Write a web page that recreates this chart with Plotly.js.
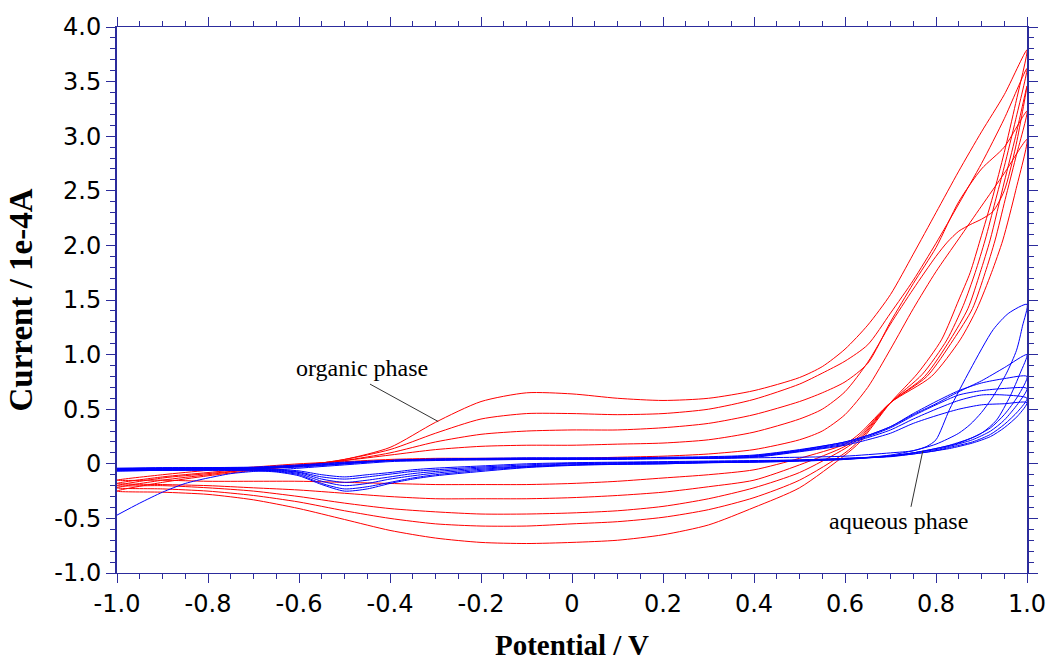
<!DOCTYPE html>
<html>
<head>
<meta charset="utf-8">
<script src="https://cdn.plot.ly/plotly-3.0.1.min.js"></script>
<style>html,body{margin:0;padding:0;background:#fff;}#chart{width:1048px;height:661px;}</style>
</head>
<body>
<div id="chart"></div>
<script>
// ---------- tick labels ----------
const xTickVals = [-1,-0.8,-0.6,-0.4,-0.2,0,0.2,0.4,0.6,0.8,1];
const xTickText = ['-1.0','-0.8','-0.6','-0.4','-0.2','0','0.2','0.4','0.6','0.8','1.0'];
const yTickVals = [-1,-0.5,0,0.5,1,1.5,2,2.5,3,3.5,4];
const yTickText = ['-1.0','-0.5','0','0.5','1.0','1.5','2.0','2.5','3.0','3.5','4.0'];

// ---------- organic phase (red) cycles: forward scan then reverse scan ----------
const orgGridX = [-1,-0.9,-0.8,-0.7,-0.6,-0.5,-0.4,-0.3,-0.2,-0.1,0,0.1,0.2,0.3,0.4,0.5,0.55,0.6,0.65,0.7,0.75,0.8,0.85,0.9,0.95,1.0];

const org1FwdY = [-0.25,-0.17,-0.11,-0.06,-0.02,0.04,0.15,0.38,0.57,0.65,0.64,0.60,0.58,0.60,0.67,0.79,0.89,1.05,1.27,1.55,1.92,2.30,2.68,3.04,3.38,3.79];
const org1RevX = [0.975,0.95,0.925,0.897,0.875,0.85,0.812,0.76,0.70,0.633,0.6,0.5,0.4,0.3,0.2,0.1,0,-0.1,-0.2,-0.3,-0.4,-0.5,-0.6,-0.7,-0.8,-0.9,-1.0];
const org1RevY = [3.30,2.85,2.45,2.05,1.75,1.50,1.135,0.83,0.56,0.20,0.08,-0.22,-0.40,-0.56,-0.65,-0.70,-0.72,-0.73,-0.72,-0.68,-0.61,-0.51,-0.41,-0.33,-0.28,-0.26,-0.25];

const org2FwdY = [-0.22,-0.15,-0.10,-0.05,-0.02,0.04,0.13,0.28,0.41,0.46,0.46,0.45,0.46,0.50,0.59,0.73,0.83,0.94,1.09,1.38,1.68,2.02,2.38,2.75,3.16,3.62];
const org2RevX = [0.975,0.95,0.93,0.908,0.886,0.86,0.824,0.77,0.70,0.633,0.6,0.5,0.4,0.3,0.2,0.1,0,-0.1,-0.2,-0.3,-0.4,-0.5,-0.6,-0.7,-0.8,-0.9,-1.0];
const org2RevY = [3.15,2.72,2.40,2.05,1.75,1.45,1.135,0.82,0.56,0.22,0.10,-0.15,-0.31,-0.42,-0.49,-0.53,-0.55,-0.57,-0.57,-0.55,-0.50,-0.43,-0.35,-0.29,-0.25,-0.23,-0.22];

const org3FwdY = [-0.20,-0.13,-0.09,-0.05,-0.02,0.03,0.10,0.20,0.27,0.30,0.31,0.31,0.33,0.37,0.45,0.57,0.65,0.75,0.92,1.30,1.65,1.98,2.40,2.70,2.90,3.23];
const org3RevX = [0.975,0.952,0.930,0.908,0.88,0.838,0.78,0.70,0.633,0.6,0.5,0.4,0.3,0.2,0.1,0,-0.1,-0.2,-0.3,-0.4,-0.5,-0.6,-0.7,-0.8,-0.9,-1.0];
const org3RevY = [2.80,2.42,2.05,1.75,1.42,1.135,0.80,0.56,0.24,0.14,-0.08,-0.22,-0.32,-0.39,-0.43,-0.45,-0.46,-0.46,-0.44,-0.41,-0.36,-0.30,-0.25,-0.22,-0.20,-0.20];

const org4FwdX = [-1,-0.9,-0.8,-0.7,-0.6,-0.5,-0.4,-0.3,-0.2,-0.1,0,0.1,0.2,0.3,0.4,0.5,0.55,0.6,0.65,0.7,0.75,0.8,0.825,0.85,0.875,0.9,0.925,0.95,0.975,1.0];
const org4FwdY = [-0.18,-0.12,-0.08,-0.04,-0.01,0.03,0.08,0.13,0.16,0.17,0.17,0.18,0.19,0.22,0.29,0.41,0.50,0.66,0.93,1.28,1.60,1.90,2.03,2.13,2.19,2.24,2.31,2.50,2.90,3.46];
const org4RevX = [0.975,0.95,0.919,0.897,0.87,0.831,0.775,0.70,0.633,0.6,0.5,0.4,0.3,0.2,0.1,0,-0.1,-0.2,-0.3,-0.4,-0.5,-0.6,-0.7,-0.8,-0.9,-1.0];
const org4RevY = [3.00,2.58,2.05,1.75,1.42,1.135,0.80,0.56,0.26,0.16,-0.01,-0.15,-0.21,-0.26,-0.29,-0.31,-0.32,-0.32,-0.32,-0.30,-0.27,-0.24,-0.22,-0.20,-0.19,-0.18];

const org5FwdY = [-0.15,-0.10,-0.06,-0.03,0.0,0.02,0.04,0.05,0.05,0.05,0.05,0.06,0.07,0.09,0.13,0.22,0.30,0.45,0.70,1.05,1.42,1.76,2.06,2.36,2.66,2.97];
const org5RevX = [0.975,0.947,0.922,0.89,0.853,0.79,0.70,0.633,0.6,0.5,0.4,0.3,0.2,0.1,0,-0.1,-0.2,-0.3,-0.4,-0.5,-0.6,-0.7,-0.8,-0.9,-1.0];
const org5RevY = [2.50,2.05,1.75,1.42,1.135,0.80,0.56,0.28,0.18,0.05,-0.055,-0.10,-0.13,-0.16,-0.18,-0.19,-0.19,-0.19,-0.18,-0.17,-0.16,-0.16,-0.16,-0.15,-0.15];

// ---------- aqueous phase (blue) cycles ----------
const aq1FwdX = [-1,-0.95,-0.9,-0.85,-0.8,-0.75,-0.7,-0.65,-0.6,-0.5,-0.4,-0.3,-0.2,-0.1,0,0.1,0.2,0.3,0.4,0.5,0.6,0.7,0.75,0.78,0.8,0.83,0.875,0.926,0.96,1.0];
const aq1FwdY = [-0.47,-0.36,-0.26,-0.18,-0.13,-0.09,-0.07,-0.055,-0.04,-0.01,0.02,0.03,0.04,0.04,0.04,0.045,0.05,0.05,0.055,0.06,0.07,0.10,0.12,0.16,0.22,0.50,0.86,1.23,1.38,1.46];
const aq1RevX = [0.99,0.977,0.955,0.926,0.9,0.875,0.85,0.8,0.75,0.7,0.6,0.5,0.4,0.3,0.2,0.1,0,-0.1,-0.2,-0.3,-0.35,-0.4,-0.45,-0.5,-0.55,-0.6,-0.65,-0.7,-0.8,-0.9,-1.0];
const aq1RevY = [1.26,1.04,0.83,0.62,0.47,0.36,0.28,0.18,0.12,0.08,0.04,0.025,0.015,0.01,0.0,-0.005,-0.015,-0.035,-0.07,-0.11,-0.14,-0.18,-0.23,-0.25,-0.19,-0.11,-0.075,-0.065,-0.06,-0.06,-0.065];

const aqGridX = [-1,-0.9,-0.8,-0.7,-0.6,-0.5,-0.4,-0.3,-0.2,-0.1,0,0.1,0.2,0.3,0.4,0.5,0.6,0.65,0.7,0.75,0.8,0.85,0.9,0.95,1.0];
const aqRevX = [0.98,0.95,0.92,0.88,0.83,0.8,0.75,0.7,0.6,0.5,0.4,0.3,0.2,0.1,0,-0.1,-0.2,-0.3,-0.35,-0.4,-0.45,-0.5,-0.55,-0.6,-0.65,-0.7,-0.8,-0.9,-1.0];

const aq2FwdY = [-0.065,-0.06,-0.055,-0.045,-0.03,0.0,0.03,0.045,0.05,0.055,0.055,0.055,0.06,0.065,0.08,0.13,0.20,0.26,0.34,0.45,0.55,0.66,0.76,0.88,1.0];
const aq2RevX = [0.985,0.963,0.933,0.9,0.85,0.8,0.75,0.7,0.6,0.5,0.4,0.3,0.2,0.1,0,-0.1,-0.2,-0.3,-0.35,-0.4,-0.45,-0.5,-0.55,-0.6,-0.65,-0.7,-0.8,-0.9,-1.0];
const aq2RevY = [0.83,0.62,0.40,0.28,0.19,0.14,0.10,0.07,0.04,0.025,0.015,0.01,0.0,-0.005,-0.01,-0.03,-0.06,-0.10,-0.13,-0.17,-0.21,-0.23,-0.18,-0.10,-0.07,-0.06,-0.055,-0.06,-0.065];

const aq3FwdY = [-0.06,-0.055,-0.05,-0.04,-0.025,0.0,0.03,0.04,0.045,0.05,0.05,0.05,0.055,0.06,0.075,0.125,0.20,0.26,0.34,0.46,0.57,0.67,0.74,0.78,0.80];
const aq3RevY = [0.62,0.45,0.33,0.24,0.17,0.14,0.10,0.075,0.045,0.03,0.02,0.012,0.005,0.0,-0.01,-0.025,-0.05,-0.085,-0.11,-0.14,-0.18,-0.20,-0.16,-0.09,-0.065,-0.055,-0.05,-0.05,-0.055];

const aq4FwdY = [-0.055,-0.05,-0.045,-0.04,-0.02,0.005,0.03,0.04,0.045,0.045,0.05,0.05,0.05,0.055,0.07,0.12,0.19,0.25,0.33,0.44,0.54,0.63,0.67,0.69,0.69];
const aq4RevY = [0.55,0.40,0.30,0.22,0.16,0.13,0.10,0.07,0.045,0.03,0.02,0.015,0.01,0.005,0.0,-0.02,-0.04,-0.07,-0.09,-0.12,-0.15,-0.17,-0.14,-0.08,-0.06,-0.05,-0.045,-0.045,-0.05];

const aq5FwdY = [-0.05,-0.045,-0.04,-0.035,-0.015,0.01,0.03,0.035,0.04,0.04,0.045,0.045,0.05,0.05,0.065,0.115,0.18,0.24,0.31,0.41,0.50,0.58,0.63,0.63,0.60];
const aq5RevY = [0.48,0.36,0.27,0.20,0.15,0.12,0.09,0.07,0.05,0.035,0.025,0.02,0.015,0.01,0.005,-0.01,-0.03,-0.055,-0.07,-0.095,-0.12,-0.14,-0.12,-0.075,-0.055,-0.045,-0.04,-0.04,-0.045];

const aq6FwdY = [-0.045,-0.04,-0.035,-0.03,-0.01,0.015,0.03,0.035,0.035,0.04,0.04,0.04,0.045,0.05,0.06,0.11,0.17,0.22,0.28,0.37,0.44,0.50,0.54,0.55,0.56];
const aq6RevY = [0.44,0.33,0.25,0.19,0.14,0.12,0.09,0.065,0.05,0.035,0.03,0.025,0.02,0.015,0.01,0.0,-0.02,-0.04,-0.055,-0.08,-0.10,-0.12,-0.10,-0.065,-0.05,-0.04,-0.035,-0.035,-0.04];

// ---------- build traces ----------
const RED = 'rgb(255,0,0)';
const BLUE = 'rgb(0,0,255)';
function loop(fx, fy, rx, ry, color) {
  return {
    type: 'scatter', mode: 'lines',
    x: fx.concat(rx), y: fy.concat(ry),
    line: {color: color, width: 1, shape: 'spline', smoothing: 0.7},
    hoverinfo: 'skip', showlegend: false
  };
}
const traces = [
  loop(orgGridX, org1FwdY, org1RevX, org1RevY, RED),
  loop(orgGridX, org2FwdY, org2RevX, org2RevY, RED),
  loop(orgGridX, org3FwdY, org3RevX, org3RevY, RED),
  loop(org4FwdX, org4FwdY, org4RevX, org4RevY, RED),
  loop(orgGridX, org5FwdY, org5RevX, org5RevY, RED),
  loop(aq1FwdX, aq1FwdY, aq1RevX, aq1RevY, BLUE),
  loop(aqGridX, aq2FwdY, aq2RevX, aq2RevY, BLUE),
  loop(aqGridX, aq3FwdY, aqRevX, aq3RevY, BLUE),
  loop(aqGridX, aq4FwdY, aqRevX, aq4RevY, BLUE),
  loop(aqGridX, aq5FwdY, aqRevX, aq5RevY, BLUE),
  loop(aqGridX, aq6FwdY, aqRevX, aq6RevY, BLUE)
];

const AX = '#2c2c9c';
const tickFont = {family: 'DejaVu Sans, Liberation Sans, sans-serif', size: 24, color: '#000'};
const xTitleFont = {family: 'Liberation Serif, Times New Roman, serif', size: 29, color: '#000', weight: 'bold'};
const yTitleFont = {family: 'Liberation Serif, Times New Roman, serif', size: 33, color: '#000', weight: 'bold'};
const noteFont = {family: 'Liberation Serif, Times New Roman, serif', size: 24, color: '#000'};

const layout = {
  width: 1048, height: 661,
  margin: {l: 117, r: 21, t: 27, b: 88},
  paper_bgcolor: '#fff', plot_bgcolor: '#fff',
  showlegend: false,
  xaxis: {
    range: [-1, 1], tickmode: 'array', tickvals: xTickVals, ticktext: xTickText,
    ticks: 'outside', ticklen: 9, tickwidth: 1, tickcolor: AX,
    showline: true, linecolor: AX, linewidth: 1, mirror: 'allticks',
    showgrid: false, zeroline: false, tickfont: tickFont,
    minor: {tickmode: 'linear', tick0: -1, dtick: 0.05, ticks: 'outside', ticklen: 5, tickcolor: AX, showgrid: false},
    title: {text: 'Potential / V', font: xTitleFont, standoff: 20}
  },
  yaxis: {
    range: [-1, 4], tickmode: 'array', tickvals: yTickVals, ticktext: yTickText,
    ticks: 'outside', ticklen: 9, tickwidth: 1, tickcolor: AX,
    showline: true, linecolor: AX, linewidth: 2, mirror: 'allticks',
    showgrid: false, zeroline: false, tickfont: tickFont,
    minor: {tickmode: 'linear', tick0: -1, dtick: 0.1, ticks: 'outside', ticklen: 5, tickcolor: AX, showgrid: false},
    title: {text: 'Current / 1e-4A', font: yTitleFont, standoff: 12}
  },
  annotations: [
    {text: 'organic phase', x: -0.4615, y: 0.88, xref: 'x', yref: 'y', showarrow: false, font: noteFont, xanchor: 'center', yanchor: 'middle'},
    {text: 'aqueous phase', x: 0.7165, y: -0.52, xref: 'x', yref: 'y', showarrow: false, font: noteFont, xanchor: 'center', yanchor: 'middle'}
  ],
  shapes: [
    {type: 'line', xref: 'x', yref: 'y', x0: -0.444, y0: 0.73, x1: -0.294, y1: 0.387, line: {color: '#333', width: 1}},
    {type: 'line', xref: 'x', yref: 'y', x0: 0.745, y0: -0.394, x1: 0.771, y1: 0.119, line: {color: '#333', width: 1}}
  ]
};

Plotly.newPlot('chart', traces, layout, {staticPlot: true, displayModeBar: false});
</script>
</body>
</html>
